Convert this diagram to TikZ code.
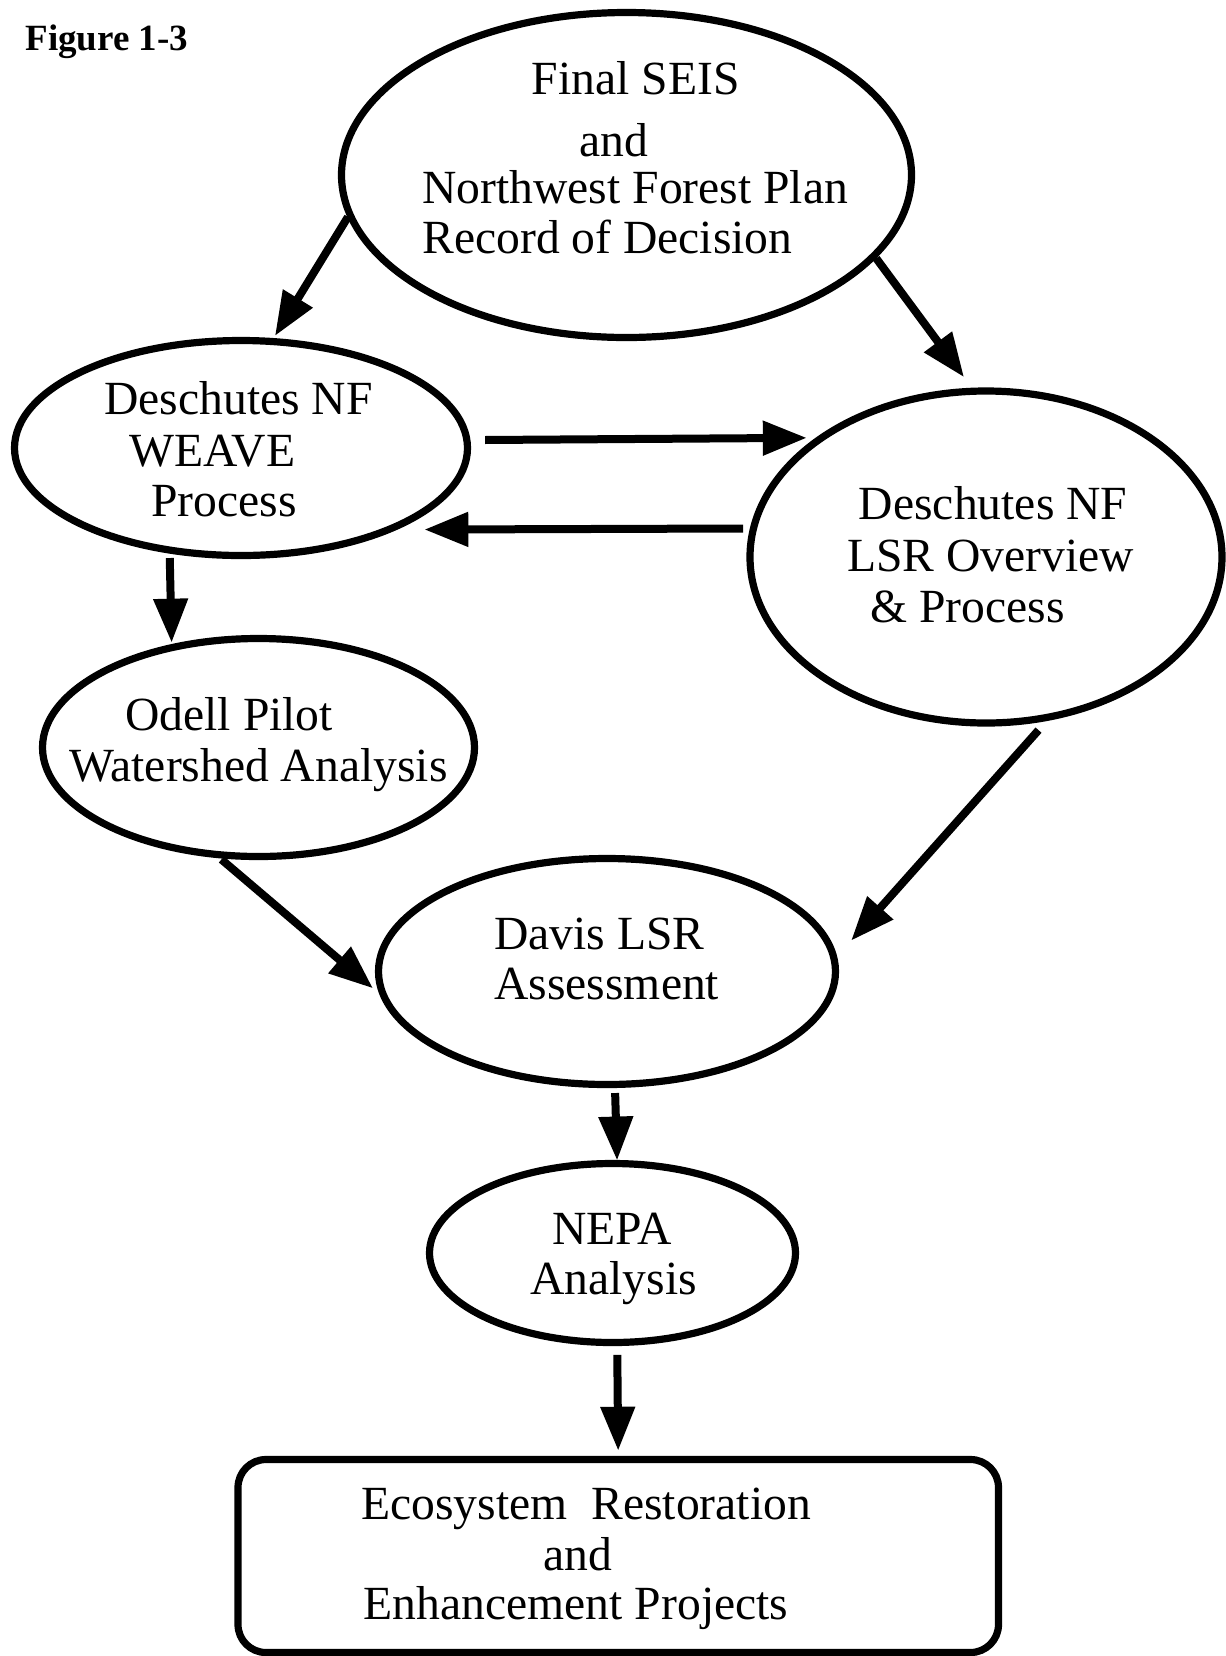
\documentclass[tikz,border=0pt]{standalone}
\usepackage{fontspec}
\setmainfont{Liberation Serif}
\usetikzlibrary{arrows.meta,shapes.geometric}
\begin{document}
\begin{tikzpicture}[x=0.5pt,y=-0.5pt,
  oval/.style={ellipse,draw,line width=3.6pt,inner sep=0pt,outer sep=0pt},
  box/.style={rectangle,draw,line width=3.6pt,rounded corners=14pt,inner sep=0pt,outer sep=0pt},
  lbl/.style={anchor=base west,inner sep=0pt,font=\fontsize{23.8}{26}\selectfont},
  flow/.style={line width=4pt,-{Triangle[length=22pt,width=16.5pt]}}]
\useasboundingbox (0,0) rectangle (1226,1656);

% shapes
\node[oval,minimum width=285pt,minimum height=162.5pt] (seis) at (626.5,175) {};
\node[oval,minimum width=226.5pt,minimum height=107.5pt] (weave) at (241,448) {};
\node[oval,minimum width=236pt,minimum height=166pt] (lsr) at (986,557) {};
\node[oval,minimum width=216pt,minimum height=109pt] (odell) at (258.5,747.5) {};
\node[oval,minimum width=228.5pt,minimum height=113pt] (davis) at (607,971.5) {};
\node[oval,minimum width=183pt,minimum height=89.5pt] (nepa) at (612.5,1253) {};
\node[box,minimum width=380.25pt,minimum height=96.5pt] (rect) at (618.25,1556) {};

% title
\node[anchor=base west,inner sep=0pt,font=\bfseries\fontsize{18.5}{20}\selectfont] (fig) at (25,50) {Figure 1-3};

% texts
\node[lbl] (seisA) at (531.5,94) {Final SEIS};
\node[lbl] (seisB) at (579,156) {and};
\node[lbl] (seisC) at (422,203) {Northwest Forest Plan};
\node[lbl] (seisD) at (422,253) {Record of Decision};

\node[lbl] (weaveA) at (104,414.5) {Deschutes NF};
\node[lbl] (weaveB) at (129,466) {WEAVE};
\node[lbl] (weaveC) at (151,516) {Process};

\node[lbl] (lsrA) at (858.5,519) {Deschutes NF};
\node[lbl] (lsrB) at (847,571) {LSR Overview};
\node[lbl] (lsrC) at (870,622) {\& Process};

\node[lbl] (odellA) at (125,730.5) {Odell Pilot};
\node[lbl] (odellB) at (69,781) {Watershed Analysis};

\node[lbl] (davisA) at (494,949) {Davis LSR};
\node[lbl] (davisB) at (494,999.5) {Assessment};

\node[lbl] (nepaA) at (552,1244) {NEPA};
\node[lbl] (nepaB) at (530,1294.5) {Analysis};

\node[lbl] (rectA) at (361,1519.5) {Ecosystem\ \ Restoration};
\node[lbl] (rectB) at (543,1570) {and};
\node[lbl] (rectC) at (363.5,1619) {Enhancement Projects};

% connectors
\draw[flow,shorten <=1.75pt,shorten >=3.25pt] (seis.188.8) -- (weave.74);
\draw[flow,shorten <=1.75pt,shorten >=8.7pt] (seis.342.7) -- (lsr.94.5);
\draw[flow,shorten <=9.15pt,shorten >=7.5pt] (weave.2.3) -- (lsr.144.6);
\draw[flow,shorten <=5.2pt,shorten >=18pt] (lsr.173.1) -- (weave.331.5);
\draw[flow,shorten <=4pt,shorten >=2.5pt] (weave.235.2) -- (odell.131.7);
\draw[flow,shorten <=4pt,shorten >=8pt] (odell.248.9) -- (davis.187.5);
\draw[flow,shorten <=9pt,shorten >=12.7pt] (lsr.292) -- (davis.3.2);
\draw[flow,shorten <=4.3pt,shorten >=1.5pt] (davis.274.8) -- (nepa.87.4);
\draw[flow,shorten <=6.2pt,shorten >=4.4pt] (nepa.273.5) -- (rect.north);
\end{tikzpicture}
\end{document}
